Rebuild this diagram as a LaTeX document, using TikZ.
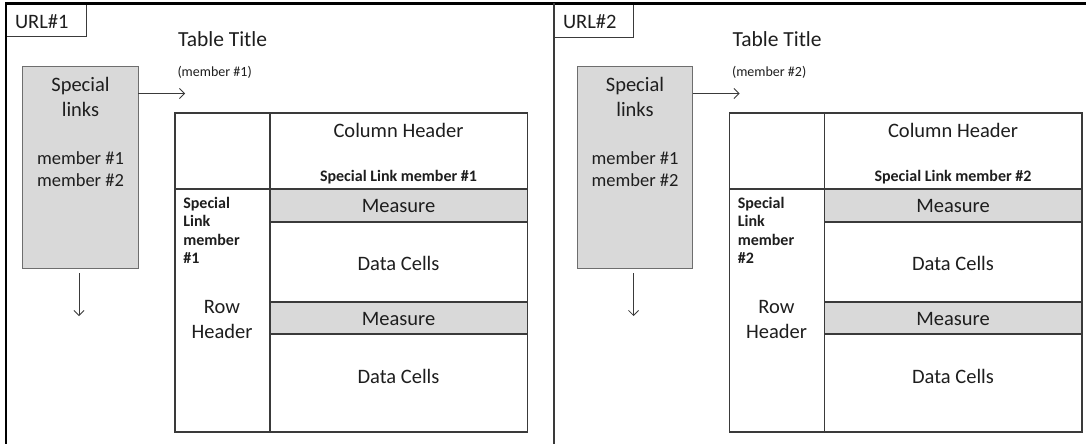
\documentclass[tikz,border=0pt]{standalone}
\usepackage{fontspec}
\setmainfont{Carlito}
\usetikzlibrary{arrows.meta}
\definecolor{boxgray}{HTML}{D9D9D9}
\definecolor{linegray}{HTML}{3A3A3A}
\definecolor{softline}{HTML}{6E6E6E}
\definecolor{textcol}{HTML}{1E1E1E}
\newcommand\bigf{\fontsize{20.5}{25}\selectfont}
\newcommand\titlef{\fontsize{21.5}{26}\selectfont}
\newcommand\medf{\fontsize{18.5}{22}\selectfont}
\newcommand\boldf{\fontsize{16}{19}\selectfont\bfseries}
\newcommand\smallf{\fontsize{14}{17}\selectfont}
\tikzset{
  lbl/.style={inner sep=0pt, outer sep=0pt, text=textcol},
  cellbox/.style={draw=linegray, line width=1.1pt, inner sep=0pt, outer sep=0pt},
  linkbox/.style={draw=softline, line width=1.1pt, fill=boxgray, inner sep=0pt, outer sep=0pt},
  urlbox/.style={draw=linegray, line width=1pt, inner sep=0pt, outer sep=0pt},
  frame/.style={draw=black, line width=2.6pt},
  midline/.style={draw=linegray, line width=2pt},
  arr/.style={-{Straight Barb[length=5pt,width=10pt]}, line width=0.8pt, draw=linegray},
}
% \tcell{name}{x1}{y1}{x2}{y2}{fill}
\newcommand\tcell[6]{%
  \node[cellbox, fill=#6, minimum width={#4-#2}, minimum height={#5-#3}]
    (#1) at ({(#2+#4)/2},{(#3+#5)/2}) {};}
\newcommand\drawpanel[2]{%
\begin{scope}[xshift=#2pt]
  \node[lbl, font=\titlef, anchor=base west] (title#1) at (178,47) {Table Title};
  \node[lbl, font=\smallf, anchor=base west] (sub#1) at (177.5,76) {(member \##1)};
  % special links box
  \node[linkbox, minimum width=115.6, minimum height=201.6] (sl#1) at (80.5,167.5) {};
  \node[lbl, font=\bigf, anchor=base] (slt#1) at (80.5,92) {Special};
  \node[lbl, font=\bigf, anchor=base] (slu#1) at (80.5,116) {links};
  \node[lbl, font=\medf, anchor=base] (slm#1a) at (80.5,164) {member \#1};
  \node[lbl, font=\medf, anchor=base] (slm#1b) at (80.5,186) {member \#2};
  \coordinate (ar#1) at (185,93.5);
  \draw[arr] ([yshift=-26.8pt]sl#1.north east) -- (ar#1);
  \coordinate (dn#1) at (79,316);
  \draw[arr] ([xshift=-1.5pt,yshift=-5pt]sl#1.south) -- (dn#1);
  % table
  \tcell{corner#1}{175}{113}{270}{189}{white}
  \tcell{colh#1}{270}{113}{527.5}{189}{white}
  \tcell{rowh#1}{175}{189}{270}{432}{white}
  \tcell{meas#1a}{270}{189}{527.5}{222}{boxgray}
  \tcell{data#1a}{270}{222}{527.5}{302}{white}
  \tcell{meas#1b}{270}{302}{527.5}{334}{boxgray}
  \tcell{data#1b}{270}{334}{527.5}{432}{white}
  % texts
  \node[lbl, font=\bigf, anchor=base] (colt#1) at (398.5,137) {Column Header};
  \node[lbl, font=\boldf, anchor=base] (coll#1) at (398.5,181) {Special Link member \##1};
  \node[lbl, font=\bigf, anchor=base] (mt#1a) at (398.5,212.5) {Measure};
  \node[lbl, font=\bigf, anchor=base] (dt#1a) at (398.5,270) {Data Cells};
  \node[lbl, font=\bigf, anchor=base] (mt#1b) at (398.5,325.5) {Measure};
  \node[lbl, font=\bigf, anchor=base] (dt#1b) at (398.5,383) {Data Cells};
  \node[lbl, font=\boldf, anchor=base west] (rl#1a) at (183.3,208) {Special};
  \node[lbl, font=\boldf, anchor=base west] (rl#1b) at (183.3,226.5) {Link};
  \node[lbl, font=\boldf, anchor=base west] (rl#1c) at (183.3,245) {member};
  \node[lbl, font=\boldf, anchor=base west] (rl#1d) at (183.3,263.5) {\##1};
  \node[lbl, font=\bigf, anchor=base] (rt#1a) at (222,313.5) {Row};
  \node[lbl, font=\bigf, anchor=base] (rt#1b) at (222,338.5) {Header};
\end{scope}}
\begin{document}
\begin{tikzpicture}[x=1pt, y=-1pt]
  \useasboundingbox (0,0) rectangle (1086,444);
  \fill[white] (0,0) rectangle (1086,444);
  % URL boxes
  \node[urlbox, minimum width=80, minimum height=33] (url1) at (46,20.5) {};
  \node[lbl, font=\bigf, anchor=base west] (url1t) at (15,28.5) {URL\#1};
  \node[urlbox, minimum width=79, minimum height=34] (url2) at (593.5,21) {};
  \node[lbl, font=\bigf, anchor=base west] (url2t) at (563,28.5) {URL\#2};
  \drawpanel{1}{0}
  \drawpanel{2}{554.5}
  % frame
  \draw[frame] (6,444) -- (6,3.3) -- (1086,3.3);
  \draw[midline] (554,3.3) -- (554,444);
\end{tikzpicture}
\end{document}
